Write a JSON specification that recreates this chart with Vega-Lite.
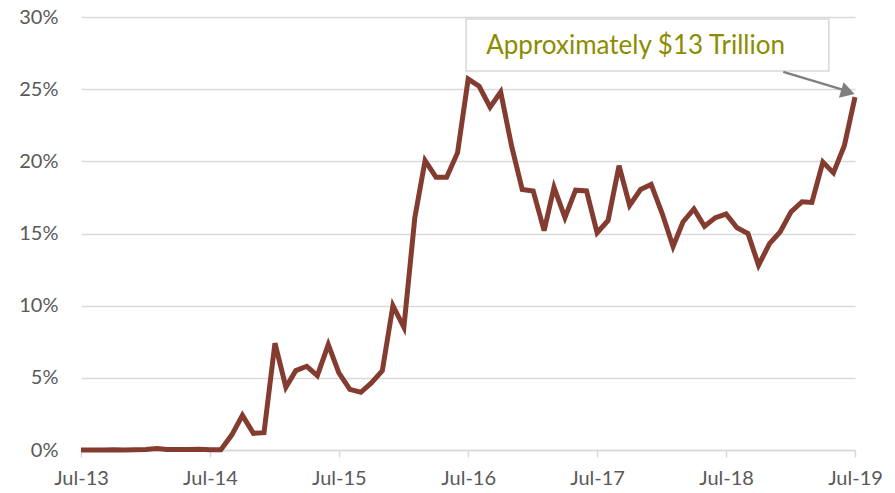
{
  "$schema": "https://vega.github.io/schema/vega-lite/v6.json",
  "width": 774,
  "height": 433,
  "autosize": "none",
  "padding": {"left": 81, "top": 17, "right": 40, "bottom": 43},
  "background": "white",
  "config": {
    "view": {"stroke": null},
    "font": "Lato"
  },
  "datasets": {
    "series": [
      {"date": "2013-07-01", "v": 0},
      {"date": "2013-08-01", "v": 0},
      {"date": "2013-09-01", "v": 0},
      {"date": "2013-10-01", "v": 0.02},
      {"date": "2013-11-01", "v": 0},
      {"date": "2013-12-01", "v": 0.02},
      {"date": "2014-01-01", "v": 0.03},
      {"date": "2014-02-01", "v": 0.1},
      {"date": "2014-03-01", "v": 0.03},
      {"date": "2014-04-01", "v": 0.03},
      {"date": "2014-05-01", "v": 0.03},
      {"date": "2014-06-01", "v": 0.06},
      {"date": "2014-07-01", "v": 0.02},
      {"date": "2014-08-01", "v": 0.02},
      {"date": "2014-09-01", "v": 1.05},
      {"date": "2014-10-01", "v": 2.4},
      {"date": "2014-11-01", "v": 1.15},
      {"date": "2014-12-01", "v": 1.2},
      {"date": "2015-01-01", "v": 7.4},
      {"date": "2015-02-01", "v": 4.35},
      {"date": "2015-03-01", "v": 5.5},
      {"date": "2015-04-01", "v": 5.8},
      {"date": "2015-05-01", "v": 5.15},
      {"date": "2015-06-01", "v": 7.3},
      {"date": "2015-07-01", "v": 5.35},
      {"date": "2015-08-01", "v": 4.2},
      {"date": "2015-09-01", "v": 4.0},
      {"date": "2015-10-01", "v": 4.65},
      {"date": "2015-11-01", "v": 5.5},
      {"date": "2015-12-01", "v": 10.0},
      {"date": "2016-01-01", "v": 8.5},
      {"date": "2016-02-01", "v": 16.1},
      {"date": "2016-03-01", "v": 20.05},
      {"date": "2016-04-01", "v": 18.9},
      {"date": "2016-05-01", "v": 18.9},
      {"date": "2016-06-01", "v": 20.6},
      {"date": "2016-07-01", "v": 25.7},
      {"date": "2016-08-01", "v": 25.2},
      {"date": "2016-09-01", "v": 23.75},
      {"date": "2016-10-01", "v": 24.8},
      {"date": "2016-11-01", "v": 21.05},
      {"date": "2016-12-01", "v": 18.05},
      {"date": "2017-01-01", "v": 17.95},
      {"date": "2017-02-01", "v": 15.2},
      {"date": "2017-03-01", "v": 18.2},
      {"date": "2017-04-01", "v": 16.1},
      {"date": "2017-05-01", "v": 18.0},
      {"date": "2017-06-01", "v": 17.95},
      {"date": "2017-07-01", "v": 15.05},
      {"date": "2017-08-01", "v": 15.9},
      {"date": "2017-09-01", "v": 19.7},
      {"date": "2017-10-01", "v": 16.95},
      {"date": "2017-11-01", "v": 18.05},
      {"date": "2017-12-01", "v": 18.4},
      {"date": "2018-01-01", "v": 16.4},
      {"date": "2018-02-01", "v": 14.1},
      {"date": "2018-03-01", "v": 15.8},
      {"date": "2018-04-01", "v": 16.7},
      {"date": "2018-05-01", "v": 15.5},
      {"date": "2018-06-01", "v": 16.1},
      {"date": "2018-07-01", "v": 16.35},
      {"date": "2018-08-01", "v": 15.4},
      {"date": "2018-09-01", "v": 15.0},
      {"date": "2018-10-01", "v": 12.8},
      {"date": "2018-11-01", "v": 14.3},
      {"date": "2018-12-01", "v": 15.1},
      {"date": "2019-01-01", "v": 16.5},
      {"date": "2019-02-01", "v": 17.2},
      {"date": "2019-03-01", "v": 17.15},
      {"date": "2019-04-01", "v": 19.95},
      {"date": "2019-05-01", "v": 19.2},
      {"date": "2019-06-01", "v": 21.1},
      {"date": "2019-07-01", "v": 24.45}
    ],
    "box": [
      {"x1": "2016-06-25", "x2": "2019-04-18", "y1": 26.26, "y2": 29.87}
    ],
    "label": [
      {"date": "2016-08-21", "v": 28.0, "text": "Approximately $13 Trillion"}
    ],
    "arrow": [
      {"x1": "2018-12-10", "y1": 26.2, "x2": "2019-06-05", "y2": 24.9}
    ],
    "head": [
      {"date": "2019-06-11", "v": 24.8}
    ]
  },
  "layer": [
    {
      "data": {"name": "series"},
      "mark": {"type": "line", "color": "#843C30", "strokeWidth": 5, "strokeJoin": "miter"},
      "encoding": {
        "x": {
          "field": "date",
          "type": "temporal",
          "scale": {
            "type": "utc",
            "domain": [
              {"year": 2013, "month": 7, "date": 1, "utc": true},
              {"year": 2019, "month": 7, "date": 1, "utc": true}
            ]
          },
          "axis": {
            "title": null,
            "values": [
              {"year": 2013, "month": 7, "date": 1, "utc": true},
              {"year": 2014, "month": 7, "date": 1, "utc": true},
              {"year": 2015, "month": 7, "date": 1, "utc": true},
              {"year": 2016, "month": 7, "date": 1, "utc": true},
              {"year": 2017, "month": 7, "date": 1, "utc": true},
              {"year": 2018, "month": 7, "date": 1, "utc": true},
              {"year": 2019, "month": 7, "date": 1, "utc": true}
            ],
            "format": "%b-%y",
            "grid": false,
            "domain": true,
            "domainColor": "#d9d9d9",
            "domainWidth": 1.5,
            "ticks": true,
            "tickColor": "#d9d9d9",
            "tickWidth": 1.5,
            "tickSize": 7,
            "labelFont": "Lato",
            "labelFontSize": 20,
            "labelColor": "#595959",
            "labelPadding": 11,
            "labelFlush": false,
            "labelOverlap": false
          }
        },
        "y": {
          "field": "v",
          "type": "quantitative",
          "scale": {"domain": [0, 30], "nice": false, "zero": true},
          "axis": {
            "title": null,
            "values": [0, 5, 10, 15, 20, 25, 30],
            "labelExpr": "datum.value + '%'",
            "grid": true,
            "gridColor": "#d9d9d9",
            "gridWidth": 1.5,
            "domain": false,
            "ticks": false,
            "labelFont": "Lato",
            "labelFontSize": 20,
            "labelColor": "#595959",
            "labelPadding": 23
          }
        }
      }
    },
    {
      "data": {"name": "box"},
      "mark": {"type": "rect", "fill": "white", "stroke": "#d9d9d9", "strokeWidth": 1.5},
      "encoding": {
        "x": {"field": "x1", "type": "temporal"},
        "x2": {"field": "x2"},
        "y": {"field": "y1", "type": "quantitative"},
        "y2": {"field": "y2"}
      }
    },
    {
      "data": {"name": "label"},
      "mark": {"type": "text", "align": "left", "baseline": "middle", "font": "Lato", "fontSize": 26, "color": "#8C8C00"},
      "encoding": {
        "x": {"field": "date", "type": "temporal"},
        "y": {"field": "v", "type": "quantitative"},
        "text": {"field": "text"}
      }
    },
    {
      "data": {"name": "arrow"},
      "mark": {"type": "rule", "color": "#7F7F7F", "strokeWidth": 2.5},
      "encoding": {
        "x": {"field": "x1", "type": "temporal"},
        "x2": {"field": "x2"},
        "y": {"field": "y1", "type": "quantitative"},
        "y2": {"field": "y2"}
      }
    },
    {
      "data": {"name": "head"},
      "mark": {"type": "point", "shape": "triangle-right", "filled": true, "color": "#7F7F7F", "size": 260, "angle": 17, "opacity": 1},
      "encoding": {
        "x": {"field": "date", "type": "temporal"},
        "y": {"field": "v", "type": "quantitative"}
      }
    }
  ]
}
